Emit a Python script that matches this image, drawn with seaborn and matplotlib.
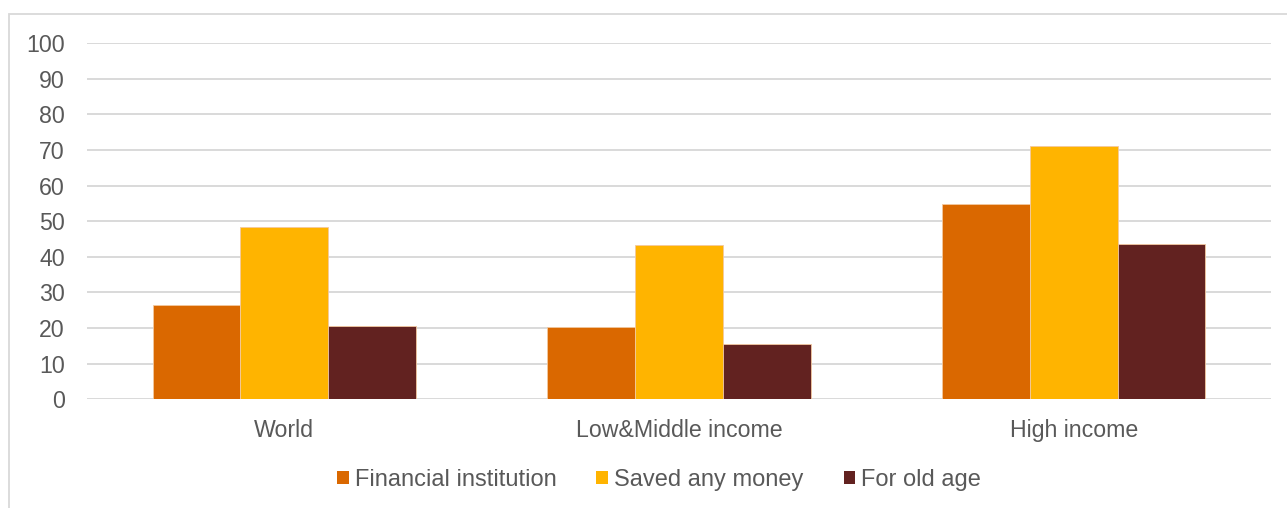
import matplotlib
matplotlib.use("Agg")
import matplotlib.pyplot as plt
import matplotlib.patches as mpatches
import pandas as pd
import seaborn as sns

# Share of adults who saved, by purpose and income group (%)
regions = ["World", "Low&Middle income", "High income"]
series = ["Financial institution", "Saved any money", "For old age"]
financial_institution = [26.6, 20.4, 54.7]
saved_any_money = [48.3, 43.3, 71.2]
for_old_age = [20.5, 15.4, 43.7]
colors = ["#DA6800", "#FFB400", "#622220"]
y_ticks = [0, 10, 20, 30, 40, 50, 60, 70, 80, 90, 100]

df = pd.DataFrame({
    "region": regions * 3,
    "series": [series[0]] * 3 + [series[1]] * 3 + [series[2]] * 3,
    "value": financial_institution + saved_any_money + for_old_age,
})

sns.set_theme(style="white")
plt.rcParams["font.family"] = ["Liberation Sans", "DejaVu Sans"]

W, H = 1287, 508
fig = plt.figure(figsize=(W / 100, H / 100), dpi=100)
fig.patch.set_facecolor("white")
ax = fig.add_axes([87 / W, 1 - 399.3 / H, (1271 - 87) / W, (399.3 - 43) / H])

sns.barplot(data=df, x="region", y="value", hue="series", hue_order=series,
            order=regions, palette=colors, saturation=1, width=0.667,
            edgecolor="#f3c9a0", linewidth=0.6, legend=False, ax=ax, zorder=3)

ax.set_ylim(0, 100)
ax.set_xlim(-0.5, 2.5)
ax.set_yticks(y_ticks)
ax.set_xlabel("")
ax.set_ylabel("")
ax.grid(axis="y", color="#d9d9d9", linewidth=1.4, zorder=0)
ax.grid(axis="x", visible=False)
for s in ax.spines.values():
    s.set_visible(False)
ax.tick_params(axis="y", length=0, pad=16, labelsize=16.7, labelcolor="#595959")
ax.tick_params(axis="x", length=0, pad=14, labelsize=16.7, labelcolor="#595959")

handles = [mpatches.Patch(facecolor=c, edgecolor="none", label=l)
           for c, l in zip(colors, series)]
fig.legend(handles=handles, loc="center", bbox_to_anchor=(659 / W, 1 - 480 / H),
           ncol=3, frameon=False, fontsize=17, labelcolor="#595959",
           handlelength=0.5, handleheight=0.5, handletextpad=0.25,
           columnspacing=1.7)

# Light chart-area border
fig.add_artist(mpatches.Rectangle((8.5 / W, -0.1), 1.2, 1 - 14.5 / H + 0.1,
                                  transform=fig.transFigure, fill=False,
                                  edgecolor="#d9d9d9", linewidth=1.3))

fig.savefig("out.png", dpi=100, facecolor="white")
